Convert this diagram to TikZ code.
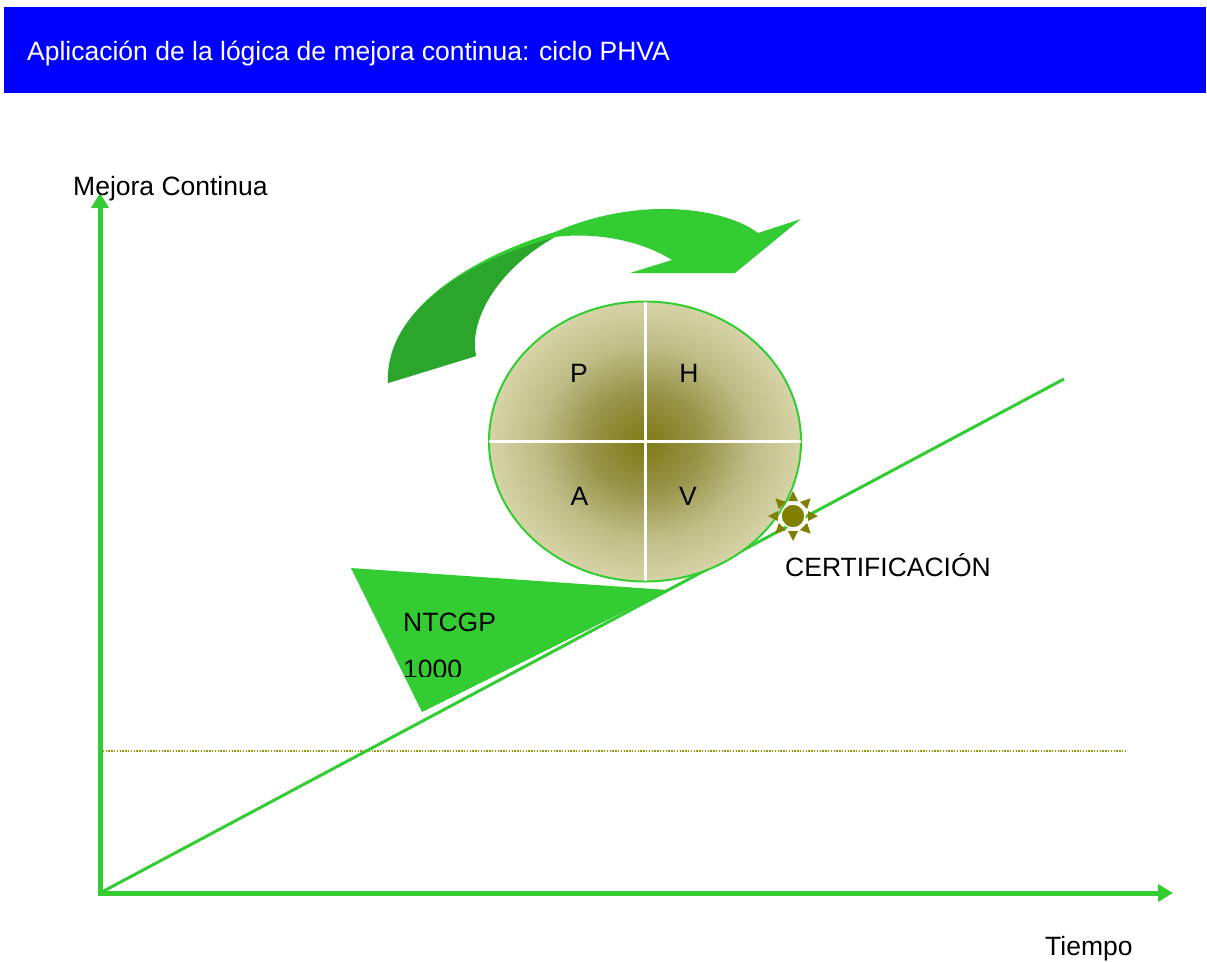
\documentclass[tikz,border=0pt]{standalone}
\usepackage{fontspec}
\setmainfont{Liberation Sans}
\usetikzlibrary{arrows.meta}
\definecolor{hdrblue}{HTML}{0000FF}
\definecolor{grn}{HTML}{33CC33}
\definecolor{dgrn}{HTML}{2BA52B}
\definecolor{oliv}{HTML}{808000}
\definecolor{dotc}{HTML}{9A9A10}
\definecolor{pcenter}{HTML}{7D7A15}
\definecolor{pmid}{HTML}{98944A}
\definecolor{pout}{HTML}{BFBC86}
\definecolor{pedge}{HTML}{D6D4A8}
\pgfdeclareradialshading{phva}{\pgfpoint{0bp}{0bp}}{color(0bp)=(pcenter); color(9bp)=(pmid); color(17bp)=(pout); color(25bp)=(pedge); color(50bp)=(pedge)}
\tikzset{
  lbl/.style={font=\fontsize{26.5}{30}\selectfont, anchor=base west, inner sep=0pt, text=black},
  axis/.style={grn, line width=5pt, -{Triangle[length=15pt,width=17pt]}},
  whiteline/.style={white, line width=3pt},
}
\begin{document}
\begin{tikzpicture}[x=1pt,y=-1pt]
\useasboundingbox (0,0) rectangle (1207,961);
% header
\fill[hdrblue] (4,7) rectangle (1206,93);
\node[lbl, text=white] (title) at (27,60) {Aplicación de la lógica de mejora continua: ciclo PHVA};
% axes
\coordinate (O) at (100,893);
\coordinate (Ytop) at (100,193);
\coordinate (Xend) at (1173,893);
\coordinate (Dend) at (1064,379);
\draw[dotc, line width=1.6pt, dash pattern=on 1.4pt off 1.4pt] (100,751) -- (1126,751);
\draw[grn, line width=3pt] (O) -- (Dend);
\draw[axis] (100,895.5) -- (Ytop);
\draw[axis] (97.5,893) -- (Xend);
\node[lbl] (ylab) at (73,195) {Mejora Continua};
\node[lbl] (xlab) at (1045,955) {Tiempo};
% triangle NTCGP
\fill[grn] (351,568) -- (668,590) -- (422,712) -- cycle;
\node[lbl] (ntc) at (403,631) {NTCGP};
\begin{scope}
\clip (380,640) rectangle (500,676);
\node[lbl] (mil) at (403,678) {1000};
\end{scope}
% curved arrow
\fill[grn] (388,383) -- (476,356)
  .. controls (468,318) and (500,268) .. (555,237)
  .. controls (595,232) and (640,240) .. (672,260)
  -- (630,273) -- (735,273) -- (801,219) -- (758,233)
  .. controls (725,208) and (640,195) .. (555,232)
  .. controls (470,258) and (385,310) .. (388,383)
  -- cycle;
\fill[dgrn] (388,383)
  .. controls (385,310) and (470,260) .. (553,238)
  .. controls (500,268) and (468,318) .. (476,356)
  -- cycle;
% PHVA ellipse
\coordinate (C) at (645,441.5);
\shade[shading=phva] (C) ellipse [x radius=156, y radius=140];
\draw[grn, line width=2pt] (C) ellipse [x radius=156, y radius=140];
\draw[whiteline] (645,302) -- (645,581);
\draw[whiteline] (489,441.5) -- (801,441.5);
\node[lbl, anchor=base] (P) at (579,382) {P};
\node[lbl, anchor=base] (H) at (689,382) {H};
\node[lbl, anchor=base] (A) at (579.5,505) {A};
\node[lbl, anchor=base] (V) at (688,505) {V};
% sun
\begin{scope}[shift={(793,516)}]
  \fill[oliv, draw=white, line width=1.5pt] (0,0) circle (12);
  \foreach \a in {0,45,...,315} {
    \fill[oliv, rotate=\a] (25,0) -- (15,5) -- (15,-5) -- cycle;
  }
\end{scope}
\node[lbl] (cert) at (785,576) {CERTIFICACIÓN};
\end{tikzpicture}
\end{document}
